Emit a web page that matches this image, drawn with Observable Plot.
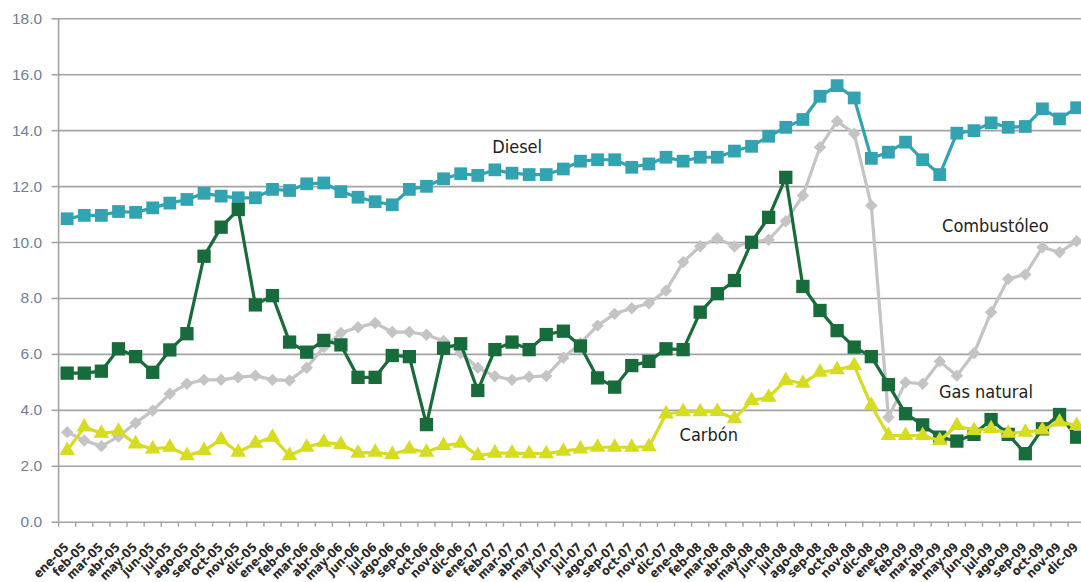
<!DOCTYPE html>
<html>
<head>
<meta charset="utf-8">
<script src="https://cdn.jsdelivr.net/npm/d3@7"></script>
<script src="https://cdn.jsdelivr.net/npm/@observablehq/plot@0.6"></script>
<style>
  html, body { margin: 0; padding: 0; background: #ffffff; }
  #chart svg { display: block; }
</style>
</head>
<body>
<div id="chart"></div>
<script>
const months = [
  "ene-05","feb-05","mar-05","abr-05","may-05","jun-05","jul-05","ago-05","sep-05","oct-05","nov-05","dic-05",
  "ene-06","feb-06","mar-06","abr-06","may-06","jun-06","jul-06","ago-06","sep-06","oct-06","nov-06","dic-06",
  "ene-07","feb-07","mar-07","abr-07","may-07","jun-07","jul-07","ago-07","sep-07","oct-07","nov-07","dic-07",
  "ene-08","feb-08","mar-08","abr-08","may-08","jun-08","jul-08","ago-08","sep-08","oct-08","nov-08","dic-08",
  "ene-09","feb-09","mar-09","abr-09","may-09","jun-09","jul-09","ago-09","sep-09","oct-09","nov-09","dic-09"
];
const yTicks = [0, 2, 4, 6, 8, 10, 12, 14, 16, 18];

const diesel = [
  10.85, 10.97, 10.97, 11.11, 11.08, 11.24, 11.41, 11.54, 11.76, 11.66,
  11.60, 11.60, 11.90, 11.86, 12.10, 12.13, 11.82, 11.62, 11.46, 11.35,
  11.90, 12.01, 12.28, 12.46, 12.40, 12.60, 12.48, 12.43, 12.43, 12.63,
  12.91, 12.96, 12.96, 12.69, 12.81, 13.05, 12.91, 13.05, 13.05, 13.27,
  13.44, 13.80, 14.12, 14.40, 15.23, 15.61, 15.17, 13.01, 13.23, 13.59,
  12.96, 12.43, 13.91, 14.00, 14.28, 14.12, 14.15, 14.78, 14.42, 14.82
];
const gasNatural = [
  5.33, 5.33, 5.40, 6.20, 5.92, 5.36, 6.16, 6.74, 9.51, 10.55,
  11.18, 7.77, 8.10, 6.44, 6.08, 6.50, 6.34, 5.18, 5.18, 5.96,
  5.92, 3.49, 6.22, 6.38, 4.71, 6.17, 6.44, 6.17, 6.71, 6.83,
  6.30, 5.16, 4.83, 5.60, 5.75, 6.20, 6.17, 7.51, 8.17, 8.64,
  10.01, 10.90, 12.33, 8.43, 7.57, 6.85, 6.26, 5.92, 4.92, 3.88,
  3.48, 3.04, 2.90, 3.14, 3.67, 3.14, 2.45, 3.34, 3.85, 3.04
];
const combustoleo = [
  3.22, 2.92, 2.72, 3.06, 3.55, 3.99, 4.59, 4.95, 5.09, 5.09,
  5.18, 5.24, 5.09, 5.07, 5.52, 6.26, 6.77, 6.97, 7.12, 6.80,
  6.80, 6.70, 6.48, 6.05, 5.52, 5.22, 5.09, 5.20, 5.23, 5.88,
  6.40, 7.03, 7.45, 7.65, 7.83, 8.28, 9.30, 9.87, 10.15, 9.86,
  10.01, 10.10, 10.76, 11.68, 13.41, 14.34, 13.89, 11.32, 3.75, 5.00,
  4.95, 5.75, 5.24, 6.04, 7.51, 8.70, 8.86, 9.83, 9.65, 10.05
];
const carbon = [
  2.56, 3.40, 3.18, 3.25, 2.80, 2.62, 2.68, 2.38, 2.56, 2.95,
  2.50, 2.82, 3.04, 2.38, 2.68, 2.86, 2.78, 2.47, 2.50, 2.42,
  2.62, 2.50, 2.74, 2.82, 2.38, 2.47, 2.47, 2.45, 2.45, 2.54,
  2.62, 2.68, 2.68, 2.68, 2.70, 3.87, 3.95, 3.95, 3.96, 3.70,
  4.35, 4.47, 5.07, 4.97, 5.36, 5.45, 5.60, 4.17, 3.10, 3.10,
  3.10, 2.92, 3.46, 3.28, 3.34, 3.18, 3.22, 3.30, 3.58, 3.46
];

const seriesNames = ["Diesel", "Combustóleo", "Gas natural", "Carbón"];

const toRows = (values) => values.map((v, i) => ({i, month: months[i], v}));
const dieselRows = toRows(diesel);
const gasRows = toRows(gasNatural);
const combRows = toRows(combustoleo);
const carbonRows = toRows(carbon);

const idx = d3.range(months.length);
const bounds = d3.range(months.length + 1).map(i => i - 0.5);

const GRID = "#a3a3a3";
const labelFont = "'Liberation Sans Narrow', 'DejaVu Sans Condensed', 'Arial Narrow', sans-serif";

const annotations = [
  {name: seriesNames[0], i: 26.3, v: 13.4},
  {name: seriesNames[1], i: 54.25, v: 10.57},
  {name: seriesNames[2], i: 53.7, v: 4.65},
  {name: seriesNames[3], i: 37.5, v: 3.1}
];

const chart = Plot.plot({
  width: 1081,
  height: 582,
  marginLeft: 58.1,
  marginRight: -3.7,
  marginTop: 18.3,
  marginBottom: 60.3,
  style: {fontFamily: labelFont, background: "#ffffff", overflow: "hidden"},
  x: {type: "linear", domain: [-0.5, months.length - 0.5]},
  y: {domain: [0, 18]},
  marks: [
    Plot.ruleY(yTicks, {stroke: GRID, strokeWidth: 1.6}),
    Plot.ruleX([-0.5], {stroke: GRID, strokeWidth: 1.6}),
    Plot.axisY({
      ticks: yTicks, tickFormat: d => d.toFixed(1), tickSize: 6.5, tickPadding: 10,
      stroke: GRID, strokeWidth: 1.6, fill: "#6f8095", fontSize: 15.5,
      fontFamily: "'Liberation Sans', Arial, sans-serif", label: null
    }),
    Plot.axisX({
      ticks: bounds, tickFormat: () => "", tickSize: 5, stroke: GRID, strokeWidth: 1.4, label: null
    }),
    // month labels, rotated, ending just below each category
    Plot.text(idx, {
      x: d => d, text: i => months[i], frameAnchor: "bottom", dy: 23, dx: -0.5,
      rotate: -45, textAnchor: "end", lineAnchor: "middle",
      fill: "#2a2a2a", fontSize: 12.5, fontWeight: "bold"
    }),
    // Combustóleo
    Plot.line(combRows, {x: "i", y: "v", stroke: "#c4c4c4", strokeWidth: 3.2}),
    Plot.dot(combRows, {x: "i", y: "v", symbol: "diamond2", fill: "#c4c4c4", stroke: "none", r: 5.6}),
    // Diesel
    Plot.line(dieselRows, {x: "i", y: "v", stroke: "#34a3b1", strokeWidth: 3.2}),
    Plot.dot(dieselRows, {x: "i", y: "v", symbol: "square", fill: "#34a3b1", stroke: "none", r: 7.2}),
    // Gas natural
    Plot.line(gasRows, {x: "i", y: "v", stroke: "#186b3a", strokeWidth: 3.2}),
    Plot.dot(gasRows, {x: "i", y: "v", symbol: "square", fill: "#186b3a", stroke: "none", r: 7.5}),
    // Carbón
    Plot.line(carbonRows, {x: "i", y: "v", stroke: "#d6dc1f", strokeWidth: 3.2}),
    Plot.dot(carbonRows, {x: "i", y: "v", symbol: "triangle", fill: "#d6dc1f", stroke: "none", r: 5.8}),
    // Labels
    Plot.text(annotations, {
      x: "i", y: "v", text: "name", fill: "#222222", fontSize: 18,
      fontFamily: labelFont, textAnchor: "middle"
    })
  ]
});
document.getElementById("chart").appendChild(chart);
</script>
</body>
</html>
